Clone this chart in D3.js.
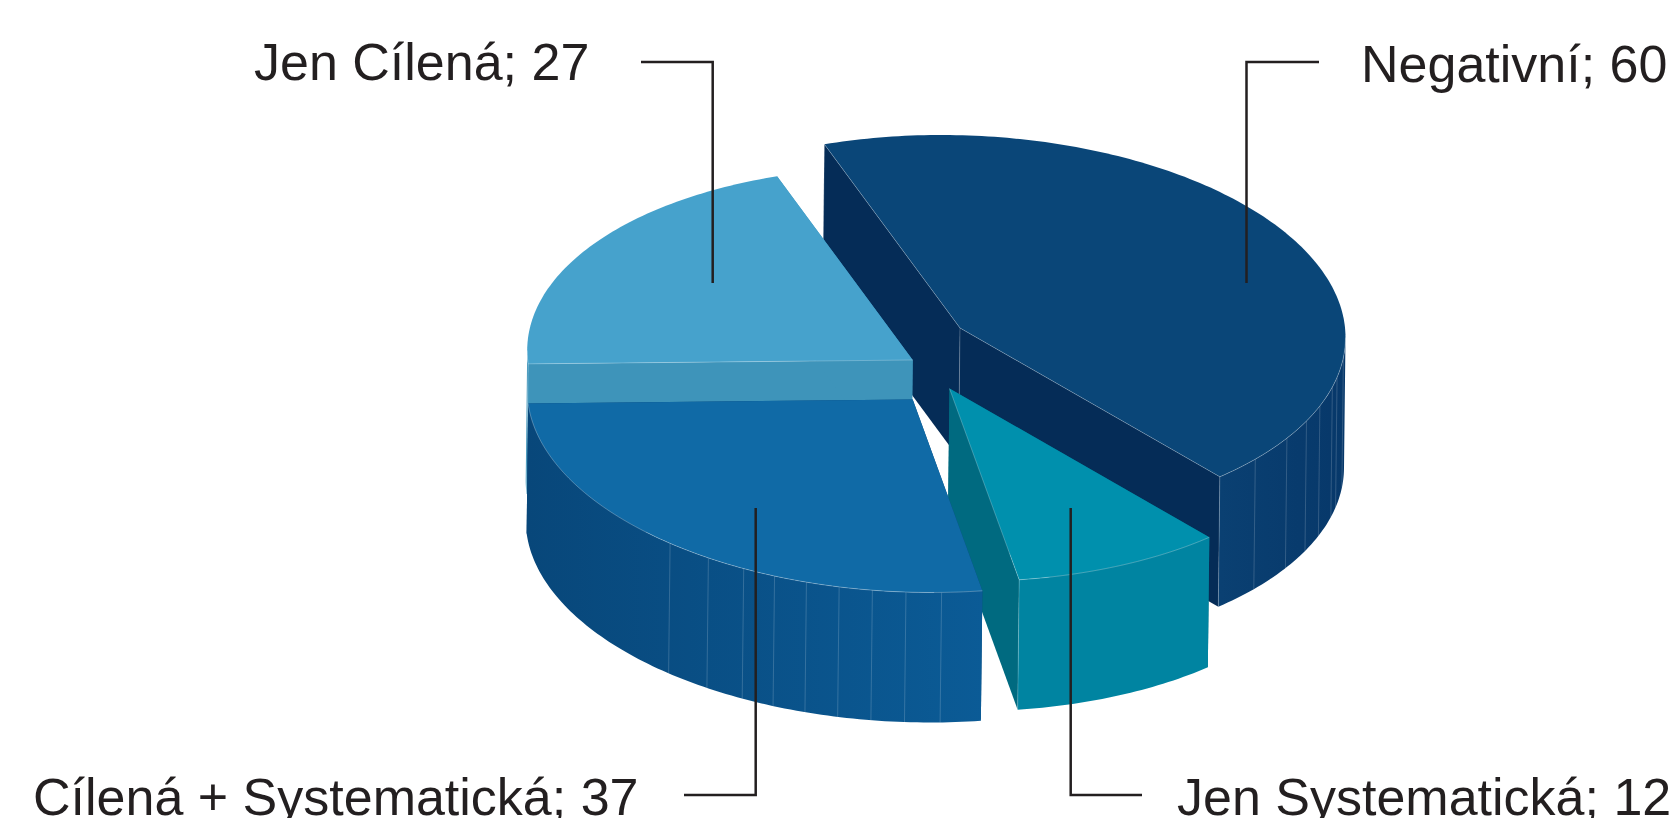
<!DOCTYPE html>
<html>
<head>
<meta charset="utf-8">
<script src="https://cdn.jsdelivr.net/npm/d3@7"></script>
<style>
	html, body { margin: 0; padding: 0; background: #fff; overflow: hidden; }
	text { font-family: "Liberation Sans", Arial, sans-serif; fill: #231f20; }
</style>
</head>
<body>
<script>
//chart data, in the order the slices run clockwise
const categories = ["Negativní", "Jen Systematická", "Cílená + Systematická", "Jen Cílená"];
const values = [60, 12, 37, 27];

//colours per slice
const topColors = ["#0a4678", "#0090ad", "#106aa6", "#46a2cc"];
const cutColors = ["#052c57", "#006a80", "#08477a", "#3e94ba"];
const wallLeftColors = ["#0a4072", "#0084a1", "#08477a", "#3e94ba"];
const wallRightColors = ["#07386a", "#0084a1", "#0b5b96", "#3e94ba"];

//where the tip of each slice sits once pulled out of the pie
const tipX = [960, 949.5, 912.7, 912.7];
const tipY = [328, 388.5, 399.5, 360];

//thin seams on the outer wall, degrees clockwise from north
const negSeams = [96, 102, 105, 111, 116, 122, 130];
const blueSeams = [175.7, 181, 186, 191, 196, 201, 206, 212, 219];
const seams = [negSeams, [], blueSeams, []];

//slice borders in the drawing run a little off the exact share, degrees
const startNudge = [0, -0.6, -0.4, -1.9];
const endNudge = [-0.6, -0.4, -1.9, 0];

//which cut edges carry the pale hairline
const paleEdges = [["start", "end"], ["end"], [], ["start"]];

const labelX = [1361, 1177, 33, 254];
const labelY = [82, 815, 815, 80];
const leaderX = [[1319, 1246.5, 1246.5], [1142, 1070.7, 1070.7], [684, 755.7, 755.7], [641, 712.7, 712.7]];
const leaderY = [[62, 62, 283], [795, 795, 508], [795, 795, 508], [62, 62, 283]];

const width = 1675, height = 818;
const radius = 385.5, squash = 0.5, tilt = 0.0246;
const depth = 130, depthShift = -1.5;
const startDeg = -20.6;

//order the slices get painted in, back to front
const paintOrder = [0, 1, 3, 2];

const rad = d => d * Math.PI / 180;

const svg = d3.select("body").append("svg")
	.attr("width", width)
	.attr("height", height)
	.style("display", "block");

const defs = svg.append("defs");

const pie = d3.pie()
	.sort(null)
	.startAngle(rad(startDeg))
	.endAngle(rad(startDeg + 360));

const slices = pie(values);

const line = d3.line();

//unit circle to pixels for one slice, the ellipse leans slightly clockwise
function project(i, angle, low) {
	let x = d3.scaleLinear().domain([-1, 1]).range([-radius, radius]);
	let y = d3.scaleLinear().domain([-1, 1]).range([-radius * squash, radius * squash]);
	let dx = x(Math.sin(angle));
	let dy = y(-Math.cos(angle)) + tilt * dx;
	let p = [tipX[i] + dx, tipY[i] + dy];
	return low ? [p[0] + depthShift, p[1] + depth] : p;
}

function tip(i, low) {
	return low ? [tipX[i] + depthShift, tipY[i] + depth] : [tipX[i], tipY[i]];
}

function arcPoints(i, a0, a1, low) {
	let n = Math.ceil((a1 - a0) * 60);
	return d3.range(n + 1).map(k => project(i, a0 + (a1 - a0) * k / n, low));
}

function hairline(g, pts, opacity) {
	g.append("path")
		.attr("d", line(pts))
		.attr("fill", "none")
		.attr("stroke", "#fff")
		.attr("stroke-opacity", opacity)
		.attr("stroke-width", 0.8);
}

function drawSlice(i) {
	let s = {
		start: slices[i].startAngle + rad(startNudge[i]),
		end: slices[i].endAngle + rad(endNudge[i])
	};
	let g = svg.append("g").attr("class", "slice");

	//the two flat cut faces
	[s.start, s.end].forEach(a => {
		g.append("path")
			.attr("d", line([tip(i), project(i, a), project(i, a, true), tip(i, true)]) + "Z")
			.attr("fill", cutColors[i]);
	});

	//outer wall, only the part facing the viewer
	let a0 = Math.max(s.start, Math.PI / 2);
	let a1 = Math.min(s.end, Math.PI * 1.5);
	if (a1 > a0) {
		let id = "wall" + i;
		let grad = defs.append("linearGradient")
			.attr("id", id)
			.attr("gradientUnits", "userSpaceOnUse")
			.attr("x1", project(i, a1)[0]).attr("y1", 0)
			.attr("x2", project(i, a0)[0]).attr("y2", 0);
		grad.append("stop").attr("offset", 0).attr("stop-color", wallLeftColors[i]);
		grad.append("stop").attr("offset", 1).attr("stop-color", wallRightColors[i]);

		let outline = arcPoints(i, a0, a1).concat(arcPoints(i, a0, a1, true).reverse());
		g.append("path").attr("d", line(outline) + "Z").attr("fill", "url(#" + id + ")");

		seams[i].forEach(d => {
			hairline(g, [project(i, rad(d)), project(i, rad(d), true)], 0.22);
		});
	}

	//top face
	let top = [tip(i)].concat(arcPoints(i, s.start, s.end));
	g.append("path").attr("d", line(top) + "Z").attr("fill", topColors[i]);

	//pale hairlines on the rim and the cut edges
	if (a1 > a0) {
		hairline(g, arcPoints(i, a0, a1), 0.35);
	}
	paleEdges[i].forEach(e => {
		hairline(g, [tip(i), project(i, s[e])], 0.3);
		hairline(g, [project(i, s[e]), project(i, s[e], true)], 0.25);
	});
	if (paleEdges[i].length == 2) {
		hairline(g, [tip(i), tip(i, true)], 0.25);
	}
}

paintOrder.forEach(drawSlice);

//leaders sit over the pie
svg.selectAll("path.leader")
	.data(categories)
	.enter().append("path")
	.attr("class", "leader")
	.attr("d", (d, i) => line(leaderX[i].map((x, k) => [x, leaderY[i][k]])))
	.attr("fill", "none")
	.attr("stroke", "#231f20")
	.attr("stroke-width", 2.5);

svg.selectAll("text.label")
	.data(categories)
	.enter().append("text")
	.attr("class", "label")
	.attr("x", (d, i) => labelX[i])
	.attr("y", (d, i) => labelY[i])
	.attr("font-size", 52)
	.text((d, i) => d + "; " + values[i]);
</script>
</body>
</html>
